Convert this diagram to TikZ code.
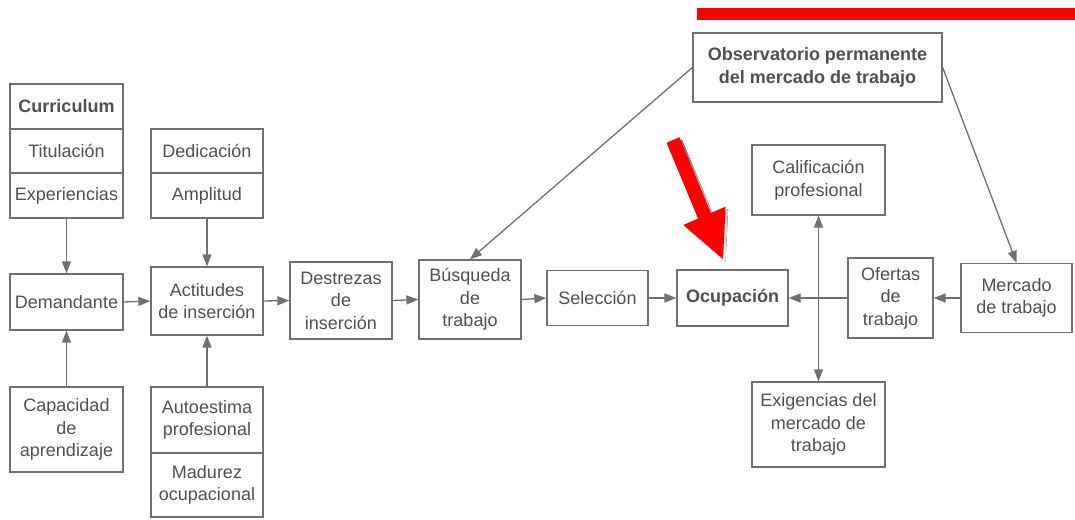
\documentclass[tikz,border=0pt]{standalone}
\usepackage{fontspec}
\setmainfont{Liberation Sans}
\usetikzlibrary{arrows.meta}
\definecolor{ink}{HTML}{505050}
\definecolor{edge}{HTML}{707070}
\definecolor{shade}{HTML}{7A7A7A}
\begin{document}
\begin{tikzpicture}[x=1pt,y=-1pt,
  box/.style={draw=edge, line width=1.3pt, fill=white, inner sep=0pt,
    align=center, text=ink, font=\fontsize{18}{22.5}\selectfont},
  tip/.style={Triangle[length=12pt,width=9pt]},
  link/.style={draw=edge, line width=1.3pt, -{Triangle[length=12pt,width=9pt]}},
  both/.style={draw=edge, line width=1.3pt,
    {Triangle[length=12pt,width=9pt]}-{Triangle[length=12pt,width=9pt]}},
]
\useasboundingbox[fill=white] (0,0) rectangle (1075,519);

% left stack
\node[box, minimum width=113pt, minimum height=45pt] (cur) at (66.5,106.5) {\bfseries Curriculum};
\node[box, minimum width=113pt, minimum height=44pt] (tit) at (66.5,151) {Titulación};
\node[box, minimum width=113pt, minimum height=45pt] (exp) at (66.5,195.5) {Experiencias};
\node[box, minimum width=113pt, minimum height=56pt] (dem) at (66.5,302) {Demandante};
\node[box, minimum width=113pt, minimum height=85pt] (cap) at (66.5,429.5) {Capacidad\\de\\aprendizaje};

% second column
\node[box, minimum width=112pt, minimum height=44pt] (ded) at (207,151) {Dedicación};
\node[box, minimum width=112pt, minimum height=45pt] (amp) at (207,195.5) {Amplitud};
\node[box, minimum width=112pt, minimum height=68pt] (act) at (207,301) {Actitudes\\de inserción};
\node[box, minimum width=112pt, minimum height=66pt] (aut) at (207,420) {Autoestima\\profesional};
\node[box, minimum width=112pt, minimum height=64pt] (mad) at (207,485) {Madurez\\ocupacional};

% main row
\node[box, minimum width=102pt, minimum height=77pt] (des) at (341,300.5) {Destrezas\\de\\inserción};
\node[box, minimum width=102pt, minimum height=79pt] (bus) at (470,299.5) {Búsqueda\\de\\trabajo};
\node[box, minimum width=101pt, minimum height=55pt] (sel) at (597.5,298) {Selección};
\node[box, minimum width=111pt, minimum height=56pt] (ocu) at (732.5,298) {\bfseries Ocupación};
\node[box, minimum width=85pt, minimum height=80pt] (ofe) at (890.5,298) {Ofertas\\de\\trabajo};
\node[box, minimum width=111pt, minimum height=69pt] (mer) at (1016.5,298) {Mercado\\de trabajo};

% right column
\node[box, minimum width=133pt, minimum height=70pt] (cal) at (818.5,180) {Calificación\\profesional};
\node[box, minimum width=133pt, minimum height=85pt] (exi) at (818.5,424.5) {Exigencias del\\mercado de\\trabajo};
\node[box, minimum width=249pt, minimum height=69pt] (obs) at (817.5,67.5) {\bfseries Observatorio permanente\\\bfseries del mercado de trabajo};

% connectors
\draw[link] (exp.south) -- (dem.north);
\draw[link] (cap.north) -- (dem.south);
\draw[link] (amp.south) -- (act.north);
\draw[link] (aut.north) -- (act.south);
\draw[link] (dem.east) -- (act.west);
\draw[link] (act.east) -- (des.west);
\draw[link] (des.east) -- (bus.west);
\draw[link] (bus.east) -- (sel.west);
\draw[link] (sel.east) -- (ocu.west);
\draw[link] (ofe.west) -- (ocu.east);
\draw[link] (mer.west) -- (ofe.east);
\draw[both] (cal.south) -- (exi.north);
\draw[link] (obs.west) -- (bus.north);
\draw[link] (obs.east) -- (mer.north);

% red highlight bar
\fill[red] (697,8) rectangle (1075,20);

% red pointer with its drop shadow
\fill[shade, shift={(2.5,2.5)}] (679.4,137.2) -- (710.9,213.0) -- (725.6,206.7) -- (723,259)
  -- (683.4,224.9) -- (698.1,218.6) -- (666.6,142.8) -- cycle;
\fill[red] (679.4,137.2) -- (710.9,213.0) -- (725.6,206.7) -- (723,259)
  -- (683.4,224.9) -- (698.1,218.6) -- (666.6,142.8) -- cycle;
\end{tikzpicture}
\end{document}
